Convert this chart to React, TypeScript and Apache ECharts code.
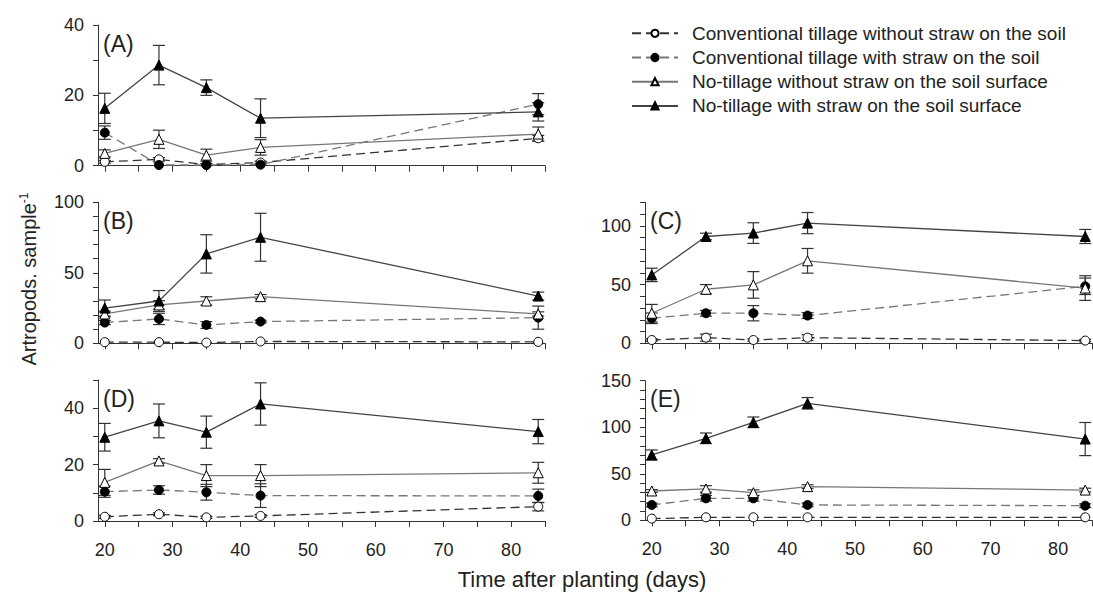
import React, { useEffect, useRef } from "react";
import * as echarts from "echarts";

const days = [20, 28, 35, 43, 84];
const xTickLabels = [20, 30, 40, 50, 60, 70, 80];
const xTickMarks = [20, 25, 30, 35, 40, 45, 50, 55, 60, 65, 70, 75, 80, 85];
const seriesNames = [
  "Conventional tillage without straw on the soil",
  "Conventional tillage with straw on the soil",
  "No-tillage without straw on the soil surface",
  "No-tillage with straw on the soil surface",
];
const panelLabels = ["(A)", "(B)", "(C)", "(D)", "(E)"];
const yMax = [40, 100, 120, 50, 150];
const yLabelStep = [20, 50, 50, 20, 50];

// Panel A
const ctA = [1.1, 1.8, 0.3, 0.9, 7.8];
const ctAErr = [0.4, 0.5, 0.3, 0.4, 0.8];
const ctsA = [9.4, 0.2, 0.2, 0.3, 17.5];
const ctsAErr = [1.9, 0.2, 0.2, 0.2, 3.0];
const ntA = [3.5, 7.5, 3.0, 5.2, 9.0];
const ntAErr = [1.0, 2.6, 1.7, 2.2, 2.0];
const ntsA = [16.3, 28.6, 22.2, 13.5, 15.3];
const ntsAErr = [4.3, 5.6, 2.2, 5.5, 2.6];

// Panel B
const ctB = [0.8, 0.8, 0.5, 1.3, 1.0];
const ctBErr = [0.4, 0.4, 0.3, 0.5, 0.5];
const ctsB = [14.7, 17.3, 13.0, 15.4, 18.2];
const ctsBErr = [1.5, 4.0, 2.4, 1.0, 8.2];
const ntB = [20.8, 27.2, 30.0, 33.1, 20.8];
const ntBErr = [2.0, 3.0, 3.0, 1.5, 1.5];
const ntsB = [25.0, 30.0, 63.4, 75.2, 33.5];
const ntsBErr = [5.7, 7.4, 13.6, 17.0, 2.8];

// Panel C
const ctC = [2.8, 4.8, 2.8, 4.8, 2.3];
const ctCErr = [1.0, 3.0, 1.0, 2.5, 1.0];
const ctsC = [21.3, 25.6, 25.6, 23.6, 48.5];
const ctsCErr = [4.5, 2.5, 6.5, 2.5, 7.0];
const ntC = [25.6, 46.0, 49.7, 70.2, 47.0];
const ntCErr = [7.5, 4.0, 11.3, 10.5, 10.5];
const ntsC = [58.2, 90.9, 93.8, 102.3, 90.9];
const ntsCErr = [5.7, 2.8, 8.8, 9.0, 6.0];

// Panel D
const ctD = [1.5, 2.4, 1.3, 1.8, 5.1];
const ctDErr = [0.5, 0.5, 0.4, 0.5, 1.5];
const ctsD = [10.4, 11.0, 10.2, 9.0, 8.9];
const ctsDErr = [2.0, 1.5, 2.8, 4.2, 2.4];
const ntD = [13.7, 21.3, 16.1, 16.1, 17.1];
const ntDErr = [4.6, 0.8, 3.9, 3.9, 3.7];
const ntsD = [29.7, 35.5, 31.5, 41.5, 31.7];
const ntsDErr = [4.9, 6.0, 5.7, 7.5, 4.3];

// Panel E
const ctE = [1.8, 3.2, 3.2, 3.2, 3.2];
const ctEErr = [0.8, 1.0, 1.0, 1.0, 1.0];
const ctsE = [16.5, 23.6, 23.6, 16.5, 15.7];
const ctsEErr = [2.0, 3.0, 3.0, 2.0, 2.0];
const ntE = [31.5, 33.7, 29.7, 36.2, 32.5];
const ntEErr = [1.5, 3.5, 3.0, 2.0, 2.0];
const ntsE = [70.2, 88.1, 105.3, 125.7, 87.3];
const ntsEErr = [5.4, 5.7, 5.7, 6.2, 17.8];

const panelValues = [
  [ctA, ctsA, ntA, ntsA],
  [ctB, ctsB, ntB, ntsB],
  [ctC, ctsC, ntC, ntsC],
  [ctD, ctsD, ntD, ntsD],
  [ctE, ctsE, ntE, ntsE],
];
const panelErrors = [
  [ctAErr, ctsAErr, ntAErr, ntsAErr],
  [ctBErr, ctsBErr, ntBErr, ntsBErr],
  [ctCErr, ctsCErr, ntCErr, ntsCErr],
  [ctDErr, ctsDErr, ntDErr, ntsDErr],
  [ctEErr, ctsEErr, ntEErr, ntsEErr],
];

const FONT = "'Liberation Sans', Arial, sans-serif";
const TXT = "#222";

const grids = [
  { left: 98, top: 25, width: 447, height: 140.7 },
  { left: 98, top: 202.3, width: 447, height: 141 },
  { left: 645, top: 202.3, width: 447, height: 141 },
  { left: 98, top: 380, width: 447, height: 141 },
  { left: 645, top: 380.7, width: 447, height: 139.6 },
];

const styles = [
  { symbol: "circle", fill: "#fff", line: "#333", dash: [9, 5] as any },
  { symbol: "circle", fill: "#000", line: "#777", dash: [9, 5] as any },
  { symbol: "triangle", fill: "#fff", line: "#777", dash: "solid" as any },
  { symbol: "triangle", fill: "#000", line: "#444", dash: "solid" as any },
];

function buildOption() {
  const xAxis: any[] = [];
  const yAxis: any[] = [];
  const series: any[] = [];
  const graphic: any[] = [];
  grids.forEach((g, p) => {
    const showLabels = p >= 3;
    xAxis.push({
      type: "value",
      gridIndex: p,
      min: 19,
      max: 85,
      splitLine: { show: false },
      axisLine: { show: true, lineStyle: { color: "#333", width: 1 } },
      axisTick: { show: true, customValues: xTickMarks, length: 6, lineStyle: { color: "#333" } },
      axisLabel: {
        show: showLabels,
        customValues: xTickLabels,
        fontSize: 18,
        fontFamily: FONT,
        color: TXT,
        margin: 20,
      },
    });
    yAxis.push({
      type: "value",
      gridIndex: p,
      min: 0,
      max: yMax[p],
      interval: 10,
      splitLine: { show: false },
      axisLine: { show: true, lineStyle: { color: "#333", width: 1 } },
      axisTick: { show: true, length: 5, lineStyle: { color: "#333" } },
      axisLabel: {
        fontSize: 18,
        fontFamily: FONT,
        color: TXT,
        margin: 14,
        formatter: (v: number) => (v % yLabelStep[p] === 0 ? String(v) : ""),
      },
    });
    graphic.push({
      type: "text",
      left: g.left + 5,
      top: g.top + 7,
      style: { text: panelLabels[p], fontSize: 23, fontFamily: FONT, fill: TXT },
    });
    for (let s = 0; s < 4; s++) {
      const vals = panelValues[p][s];
      const errs = panelErrors[p][s];
      series.push({
        type: "custom",
        name: "err" + p + s,
        xAxisIndex: p,
        yAxisIndex: p,
        z: 2,
        silent: true,
        data: days.map((d, i) => [d, vals[i] - errs[i], vals[i] + errs[i]]),
        encode: { x: 0, y: [1, 2] },
        renderItem: (params: any, api: any) => {
          const x = api.value(0);
          const lo = api.value(1);
          const hi = api.value(2);
          const t = api.coord([x, hi]);
          const b = api.coord([x, lo]);
          if (Math.abs(b[1] - t[1]) < 2) return { type: "group", children: [] };
          const w = 6;
          const st = { stroke: "#333", lineWidth: 1.2 };
          return {
            type: "group",
            children: [
              { type: "line", shape: { x1: t[0], y1: t[1], x2: b[0], y2: b[1] }, style: st },
              { type: "line", shape: { x1: t[0] - w, y1: t[1], x2: t[0] + w, y2: t[1] }, style: st },
              { type: "line", shape: { x1: b[0] - w, y1: b[1], x2: b[0] + w, y2: b[1] }, style: st },
            ],
          };
        },
      });
    }
  });
  grids.forEach((g, p) => {
    for (let s = 0; s < 4; s++) {
      const vals = panelValues[p][s];
      const st = styles[s];
      series.push({
        type: "line",
        name: seriesNames[s],
        xAxisIndex: p,
        yAxisIndex: p,
        z: 3 + s,
        data: days.map((d, i) => [d, vals[i]]),
        symbol: st.symbol,
        symbolSize: st.symbol === "circle" ? 9 : 10,
        showAllSymbol: true,
        itemStyle: { color: st.fill, borderColor: "#000", borderWidth: 1 },
        lineStyle: { color: st.line, width: 1.3, type: st.dash },
        emphasis: { disabled: true },
      });
    }
  });
  graphic.push({
    type: "text",
    x: 582,
    y: 579,
    style: {
      text: "Time after planting (days)",
      fontSize: 22,
      fontFamily: FONT,
      fill: TXT,
      align: "center",
      verticalAlign: "middle",
    },
  });
  graphic.push({
    type: "text",
    x: 29,
    y: 279,
    rotation: Math.PI / 2,
    style: {
      text: "{a|Artropods. sample}{b|-1}",
      align: "center",
      verticalAlign: "middle",
      fill: TXT,
      rich: {
        a: { fontSize: 20, fontFamily: FONT, fill: TXT, lineHeight: 22 },
        b: { fontSize: 12, fontFamily: FONT, fill: TXT, verticalAlign: "top", lineHeight: 22 },
      },
    },
  });
  return {
    animation: false,
    backgroundColor: "#fff",
    grid: grids.map((g) => ({ ...g, containLabel: false })),
    xAxis,
    yAxis,
    series,
    graphic,
    legend: {
      orient: "vertical",
      left: 631,
      top: 23.3,
      padding: 0,
      itemWidth: 46,
      itemHeight: 9,
      itemGap: 4.2,
      selectedMode: false,
      data: seriesNames,
      textStyle: { fontSize: 19, fontFamily: FONT, color: TXT, lineHeight: 20, padding: [0, 0, 0, 9] },
    },
  };
}

export default function App() {
  const ref = useRef<HTMLDivElement>(null);
  useEffect(() => {
    if (!ref.current) return;
    const chart = echarts.init(ref.current, undefined, { renderer: "svg" });
    chart.setOption(buildOption() as any);
    return () => chart.dispose();
  }, []);
  return (
    <div
      ref={ref}
      style={{ position: "fixed", left: 0, top: 0, width: 1093, height: 599, background: "#fff" }}
    />
  );
}
